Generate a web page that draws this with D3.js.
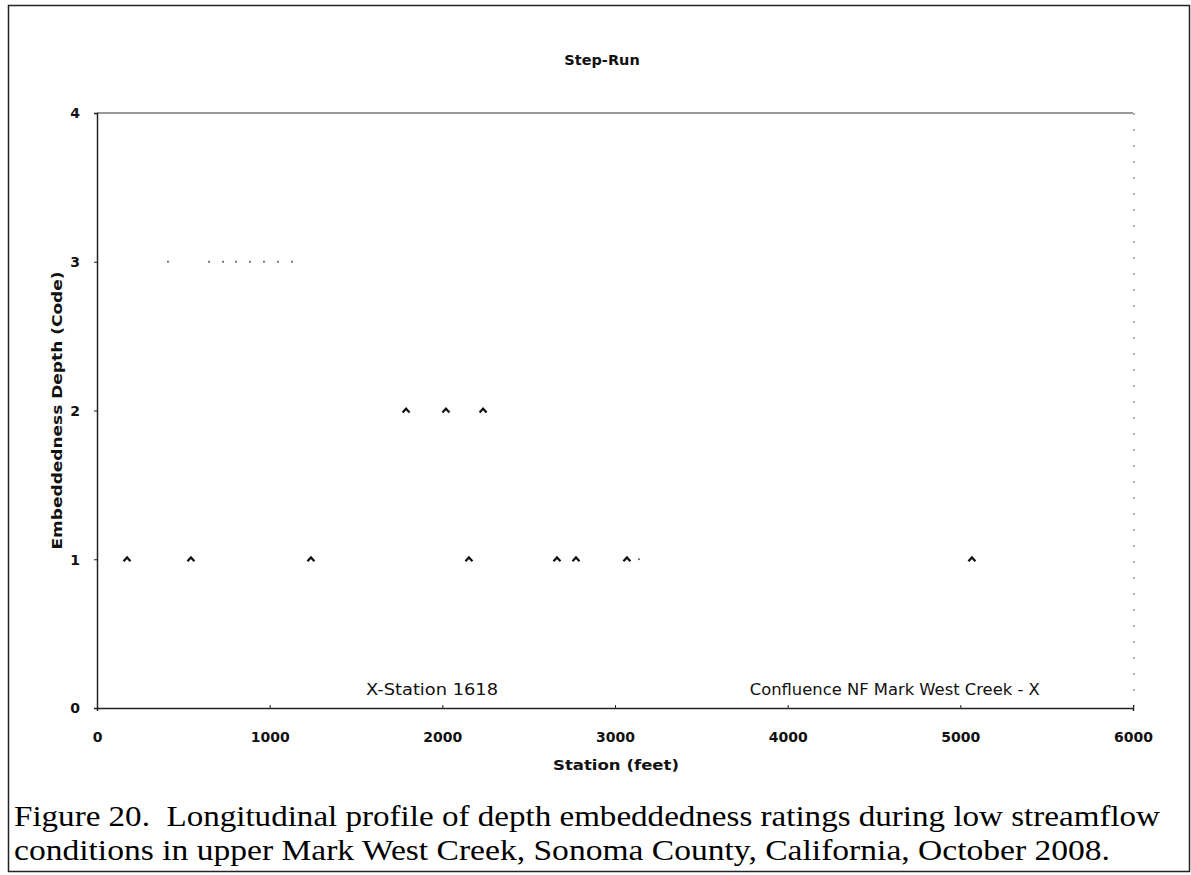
<!DOCTYPE html>
<html>
<head>
<meta charset="utf-8">
<script src="https://cdn.jsdelivr.net/npm/d3@7"></script>
<style>
	body { margin: 0; background: #fff; }
	svg { display: block; }
	.tick-label { font-family: 'DejaVu Sans', Verdana, sans-serif; font-size: 14px; font-weight: bold; fill: #111; }
	.axis-title { font-family: 'DejaVu Sans', Verdana, sans-serif; font-size: 14.5px; font-weight: bold; fill: #111; }
	.note { font-family: 'DejaVu Sans', Verdana, sans-serif; font-size: 15px; fill: #111; }
	.caption { font-family: 'Liberation Serif', 'Times New Roman', Times, serif; font-size: 30px; fill: #000; white-space: pre; }
</style>
</head>
<body>
<div id="chart"></div>
<script>

// stations (feet) and embeddedness depth codes
var stations = [174, 544, 1239, 1790, 2021, 2154, 2236, 2664, 2774, 3069, 5067];
var depthCodes = [1, 1, 1, 2, 2, 1, 2, 1, 1, 1, 1];

// faint specks left in the scan (barely visible markers)
var faintStations = [411, 649, 730, 805, 886, 967, 1048, 1129, 3139];
var faintCodes = [3, 3, 3, 3, 3, 3, 3, 3, 1];

var xTicks = [0, 1000, 2000, 3000, 4000, 5000, 6000];
var yTicks = [0, 1, 2, 3, 4];

var notes = [
	{ text: 'X-Station 1618', x: 1940, w: 132 },
	{ text: 'Confluence NF Mark West Creek - X', x: 4620, w: 290 }
];
var captionLines = [
	'Figure 20.  Longitudinal profile of depth embeddedness ratings during low streamflow',
	'conditions in upper Mark West Creek, Sonoma County, California, October 2008.'
];

var W = 1191, H = 875;
var plot = { left: 97, right: 1133, top: 113, bottom: 708 };

var svg = d3.select('#chart').append('svg')
	.attr('width', W)
	.attr('height', H);

// outer frame of the figure
svg.append('rect')
	.attr('x', 8.5).attr('y', 5.5)
	.attr('width', 1181).attr('height', 866)
	.attr('fill', 'none')
	.attr('stroke', '#222')
	.attr('stroke-width', 1.5);

var x = d3.scaleLinear().domain([0, 6000]).range([plot.left, plot.right]);
var y = d3.scaleLinear().domain([0, 4]).range([plot.bottom, plot.top]);

// title
svg.append('text')
	.attr('x', 602).attr('y', 65)
	.attr('text-anchor', 'middle')
	.attr('class', 'axis-title')
	.text('Step-Run');

// plot frame: top, right (faint, dotted in the scan)
svg.append('line')
	.attr('x1', plot.left).attr('x2', plot.right)
	.attr('y1', plot.top).attr('y2', plot.top)
	.attr('stroke', '#333').attr('stroke-width', 1);
svg.append('line')
	.attr('x1', plot.right + 1).attr('x2', plot.right + 1)
	.attr('y1', plot.top).attr('y2', plot.bottom)
	.attr('stroke', '#666').attr('stroke-width', 1)
	.attr('stroke-dasharray', '2,14');

// axes
var xAxis = svg.append('g')
	.attr('transform', 'translate(0,' + plot.bottom + ')')
	.call(d3.axisBottom(x).tickValues(xTicks).tickSize(3).tickFormat(d3.format('d')));
xAxis.attr('font-family', null).attr('font-size', null);
xAxis.select('.domain').attr('stroke', '#222').attr('stroke-width', 1.5);
xAxis.selectAll('.tick line').attr('stroke', '#222').attr('y2', -3);
xAxis.selectAll('.tick text')
	.attr('class', 'tick-label')
	.attr('y', 34)
	.attr('dy', 0);

var yAxis = svg.append('g')
	.attr('transform', 'translate(' + plot.left + ',0)')
	.call(d3.axisLeft(y).tickValues(yTicks).tickSize(3).tickFormat(d3.format('d')));
yAxis.attr('font-family', null).attr('font-size', null);
yAxis.select('.domain').attr('stroke', '#222').attr('stroke-width', 1.5);
yAxis.selectAll('.tick line').attr('stroke', '#222');
yAxis.selectAll('.tick text')
	.attr('class', 'tick-label')
	.attr('x', -17)
	.attr('dy', '0.35em');

// axis titles
svg.append('text')
	.attr('x', 616).attr('y', 770)
	.attr('text-anchor', 'middle')
	.attr('class', 'axis-title')
	.attr('textLength', 126)
	.attr('lengthAdjust', 'spacingAndGlyphs')
	.text('Station (feet)');
svg.append('text')
	.attr('transform', 'translate(62,' + y(2) + ') rotate(-90)')
	.attr('text-anchor', 'middle')
	.attr('class', 'axis-title')
	.attr('textLength', 278)
	.attr('lengthAdjust', 'spacingAndGlyphs')
	.text('Embeddedness Depth (Code)');

// notes along the bottom
notes.forEach(function (n) {
	svg.append('text')
		.attr('x', x(n.x)).attr('y', y(0) - 13)
		.attr('text-anchor', 'middle')
		.attr('class', 'note')
		.attr('textLength', n.w)
		.attr('lengthAdjust', 'spacingAndGlyphs')
		.text(n.text);
});

// faint specks
svg.append('g').selectAll('circle')
	.data(faintStations)
	.join('circle')
	.attr('cx', function (d) { return x(d); })
	.attr('cy', function (d, i) { return y(faintCodes[i]); })
	.attr('r', 0.9)
	.attr('fill', '#444');

// caret markers
var caret = 'M-3.5,2 L0,-1.8 L3.5,2';
svg.append('g').selectAll('path')
	.data(stations)
	.join('path')
	.attr('d', caret)
	.attr('transform', function (d, i) {
		return 'translate(' + x(d) + ',' + y(depthCodes[i]) + ')';
	})
	.attr('fill', 'none')
	.attr('stroke', '#111')
	.attr('stroke-width', 2.2);

// figure caption
captionLines.forEach(function (line, i) {
	svg.append('text')
		.attr('x', 14).attr('y', 826 + i * 34)
		.attr('class', 'caption')
		.attr('textLength', i === 0 ? 1146 : 1096)
		.attr('lengthAdjust', 'spacingAndGlyphs')
		.text(line);
});
</script>
</body>
</html>
